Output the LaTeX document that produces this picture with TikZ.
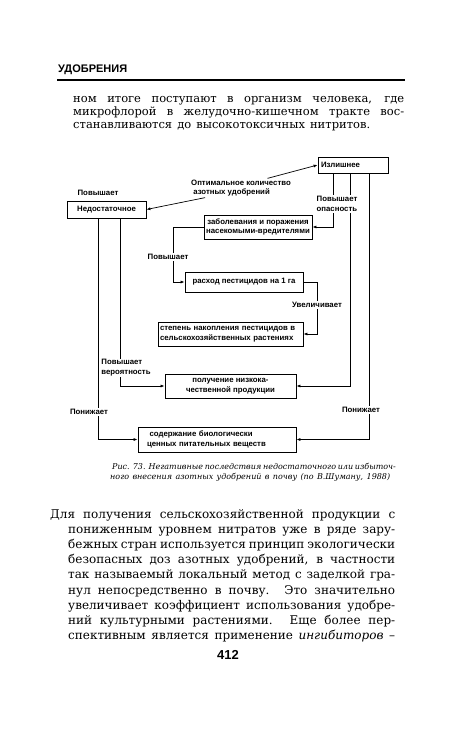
\documentclass[tikz,border=0pt]{standalone}
\usepackage{fontspec}
\setmainfont{DejaVu Serif}
\newfontfamily\diagfont{Liberation Sans}
\usetikzlibrary{arrows.meta}
\newcommand\jl[2]{\makebox[#1][s]{#2}}
\begin{document}
\begin{tikzpicture}[x=1pt,y=-1pt,
 box/.style={draw=black,line width=0.8pt,inner sep=1pt,align=center,font=\diagfont\bfseries\fontsize{7.8}{9.8}\selectfont},
 lbl/.style={inner sep=1pt,fill=white,align=left,font=\diagfont\bfseries\fontsize{7.8}{9.8}\selectfont},
 arr/.style={line width=0.7pt,-{Latex[length=4pt,width=3pt]}},
 txt/.style={anchor=north west,inner sep=0pt,align=left}]
 \fill[white] (0,0) rectangle (450,746);
 \useasboundingbox (0,0) rectangle (450,746);
 \node (head) at (58,70) [anchor=west,inner sep=0pt,font=\diagfont\bfseries\fontsize{11}{13}\selectfont] {УДОБРЕНИЯ};
 \draw[line width=1.4pt] (57,80) -- (405,80);
 \node (para 1) at (73,96) [txt,font=\fontsize{11.5}{13}\selectfont] {\jl{331pt}{ном итоге поступают в организм человека, где}\\\jl{331pt}{микрофлорой в желудочно-кишечном тракте вос-}\\\jl{297pt}{станавливаются до высокотоксичных нитритов.}};
 \node (box izl) at (353,165) [box,minimum width=70,minimum height=16,text width=64,align=left] {Излишнее};
 \node (box ned) at (106.5,209.5) [box,minimum width=79,minimum height=17] {Недостаточное};
 \node (box zab) at (258,227) [box,minimum width=108,minimum height=24] {заболевания и поражения\\насекомыми-вредителями};
 \node (box rash) at (244,282) [box,minimum width=118,minimum height=20] {расход пестицидов на 1 га};
 \node (box nak) at (230.5,334) [box,minimum width=145,minimum height=24,text width=141,align=left] {степень накопления пестицидов в\\сельскохозяйственных растениях};
 \node (box kach) at (230.5,386) [box,minimum width=131,minimum height=24] {получение низкока-\\чественной продукции};
 \node (box sod) at (217,439.5) [box,minimum width=158,minimum height=25,text width=140,align=left] {\ содержание биологически\\ценных питательных веществ};
 \node (lbl opt) at (241,188) [lbl,fill=none] {Оптимальное количество\\\ азотных удобрений};
 \draw[arr] (lbl opt.20) -- (box izl.west);
 \draw[arr] (lbl opt.195) -- (box ned.east);
 \draw[arr] ([xshift=-20]box izl.south) |- (box zab.east);
 \draw[arr] ([xshift=-3]box izl.south) |- (box kach.east);
 \draw[arr] ([xshift=16]box izl.south) |- (box sod.east);
 \draw[arr] (box zab.west) -- ++(-30,0) |- (box rash.west);
 \draw[arr] (box rash.east) -- ++(14,0) |- (box nak.east);
 \draw[arr] ([xshift=-8.5]box ned.south) |- (box sod.west);
 \draw[arr] ([xshift=13.5]box ned.south) |- (box kach.west);
 \node (lbl up1) at (98,193) [lbl] {Повышает};
 \node (lbl danger) at (337,204) [lbl] {Повышает\\опасность};
 \node (lbl up2) at (168,257) [lbl] {Повышает};
 \node (lbl inc) at (317,305) [lbl] {Увеличивает};
 \node (lbl prob) at (126,368) [lbl] {Повышает\\вероятность};
 \node (lbl down1) at (89,412) [lbl] {Понижает};
 \node (lbl down2) at (361,410) [lbl] {Понижает};
 \node (caption) at (110,463) [txt,font=\itshape\fontsize{8}{10}\selectfont] {\hspace*{2pt}\jl{276pt}{Рис. 73. Негативные последствия недостаточного или избыточ-}\\\jl{280pt}{ного внесения азотных удобрений в почву (по В.Шуману, 1988)}};
 \node (para 2) at (50,509) [txt,font=\fontsize{12}{15.2}\selectfont] {\jl{345pt}{Для получения сельскохозяйственной продукции с}\\
 \hspace*{18pt}\jl{327pt}{пониженным уровнем нитратов уже в ряде зару-}\\
 \hspace*{18pt}\jl{327pt}{бежных стран используется принцип экологически}\\
 \hspace*{18pt}\jl{327pt}{безопасных доз азотных удобрений, в частности}\\
 \hspace*{18pt}\jl{327pt}{так называемый локальный метод с заделкой гра-}\\
 \hspace*{18pt}\jl{327pt}{нул непосредственно в почву. Это значительно}\\
 \hspace*{18pt}\jl{327pt}{увеличивает коэффициент использования удобре-}\\
 \hspace*{18pt}\jl{327pt}{ний культурными растениями. Еще более пер-}\\
 \hspace*{18pt}\jl{327pt}{спективным является применение \textit{ингибиторов} –}};
 \node (page num) at (228,655) [font=\diagfont\bfseries\fontsize{13}{15}\selectfont] {412};
\end{tikzpicture}
\end{document}
